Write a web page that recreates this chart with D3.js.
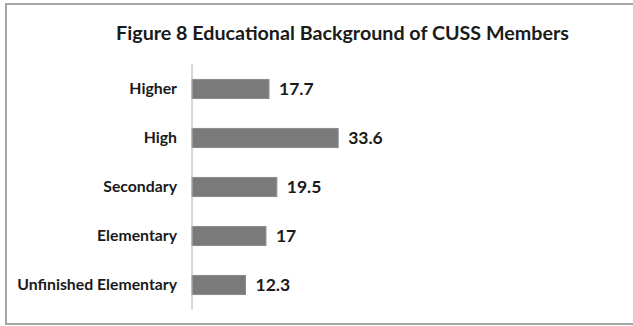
<!DOCTYPE html>
<html><head><meta charset="utf-8">
<script src="https://cdn.jsdelivr.net/npm/d3@7"></script>
<style>body{margin:0;background:#fff}svg{display:block}text{font-family:Lato,"Open Sans",sans-serif;font-weight:bold;fill:#1a1a1a}</style>
</head><body>
<svg id="c" width="633" height="326"></svg>
<script>
const categories = ["Higher","High","Secondary","Elementary","Unfinished Elementary"];
const values = [17.7, 33.6, 19.5, 17, 12.3];
const titleText = "Figure 8 Educational Background of CUSS Members";

const svg = d3.select("#c");
svg.append("rect").attr("x",6).attr("y",4).attr("width",640).attr("height",320)
  .attr("fill","#fff").attr("stroke","#a6a6a6").attr("stroke-width",2);

const x = d3.scaleLinear().domain([0,40]).range([192,366]);
const y = d3.scaleBand().domain(categories).range([64.5,309.5]).paddingInner(0.61).paddingOuter(0.305);

svg.append("text").attr("x",342.5).attr("y",40).attr("text-anchor","middle")
  .style("font-size","19.7px").text(titleText);

svg.selectAll("rect.bar").data(values).enter().append("rect").attr("class","bar")
  .attr("x",x(0)).attr("y",(d,i)=>y(categories[i]))
  .attr("width",d=>x(d)-x(0)).attr("height",y.bandwidth())
  .attr("fill","#7a7a7a").attr("stroke","#8c8c8c").attr("stroke-width",1);

const yAxis = svg.append("g").attr("transform",`translate(${x(0)},0)`)
  .call(d3.axisLeft(y).tickSize(0).tickPadding(15));
yAxis.select(".domain").attr("stroke","#b0b0b0").attr("d",`M0,64V310`);
yAxis.selectAll("text").style("font-size","15.8px").style("font-family","Lato, sans-serif").attr("fill","#1a1a1a");

svg.selectAll("text.val").data(values).enter().append("text").attr("class","val")
  .attr("x",d=>x(d)+10).attr("y",(d,i)=>y(categories[i])+y.bandwidth()/2)
  .attr("dy","0.36em").style("font-size","17.5px").text(d=>d);
</script>
</body></html>
